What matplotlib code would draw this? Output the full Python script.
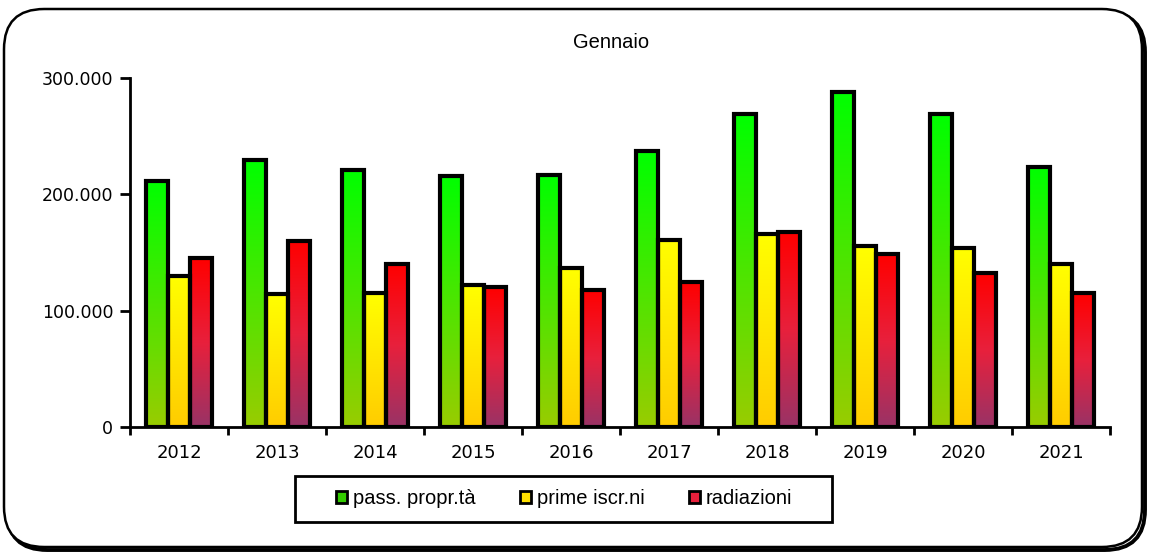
import matplotlib
matplotlib.use("Agg")
import matplotlib.pyplot as plt
import numpy as np
from matplotlib.patches import FancyBboxPatch, Rectangle, Patch
from matplotlib.colors import LinearSegmentedColormap
from matplotlib.ticker import FuncFormatter

years = ["2012", "2013", "2014", "2015", "2016", "2017", "2018", "2019", "2020", "2021"]
pass_propr = [211500, 229500, 221000, 216000, 217000, 237000, 269000, 288000, 269000, 223500]
prime_iscr = [130000, 114000, 115000, 122000, 137000, 161000, 166000, 155500, 154000, 140000]
radiazioni = [145000, 160000, 140500, 120000, 118000, 124500, 167500, 148500, 132000, 115000]
series_names = ["pass. propr.tà", "prime iscr.ni", "radiazioni"]
title = "Gennaio"

# gradient colours (top -> bottom)
grads = [
    ["#00FF00", "#99CC00"],
    ["#FFFF00", "#FFCC00"],
    ["#FF0000", "#E8203C", "#993366"],
]
legend_colors = ["#33CC00", "#FFE000", "#E8203C"]

W, H = 1150, 554
fig = plt.figure(figsize=(W / 100, H / 100), dpi=100)

# outer rounded frame with shadow
shadow = FancyBboxPatch((7 / W, 4 / H), 1138 / W, 538 / H,
                        boxstyle="round,pad=0,rounding_size=0.035",
                        transform=fig.transFigure, facecolor="none",
                        edgecolor="black", linewidth=2.8, zorder=-2, mutation_aspect=W / H)
fig.patches.append(shadow)
frame = FancyBboxPatch((4 / W, 7 / H), 1138 / W, 538 / H,
                       boxstyle="round,pad=0,rounding_size=0.035",
                       transform=fig.transFigure, facecolor="white",
                       edgecolor="black", linewidth=1.8, zorder=-1, mutation_aspect=W / H)
fig.patches.append(frame)

ax = fig.add_axes([130 / W, 1 - 427 / H, 980 / W, 349 / H])
ax.set_zorder(1)

x = np.arange(len(years))
bw = 0.225
data = [pass_propr, prime_iscr, radiazioni]
for i, vals in enumerate(data):
    offs = (i - 1) * bw
    bars = ax.bar(x + offs, vals, width=bw, facecolor="none", edgecolor="black",
                  linewidth=3.0, zorder=3)
    cmap = LinearSegmentedColormap.from_list(f"g{i}", grads[i][::-1])
    grad = np.linspace(0, 1, 256).reshape(-1, 1)
    for b in bars:
        x0 = b.get_x()
        ax.imshow(grad, cmap=cmap, origin="lower", aspect="auto",
                  extent=(x0, x0 + b.get_width(), 0, b.get_height()), zorder=2,
                  interpolation="bilinear")

ax.set_xlim(-0.5, len(years) - 0.5)
ax.set_ylim(0, 300000)
ax.set_yticks([0, 100000, 200000, 300000])
ax.yaxis.set_major_formatter(FuncFormatter(lambda v, p: "0" if v == 0 else f"{int(v):,}".replace(",", ".")))
ax.set_xticks(x)
ax.set_xticklabels(years)
ax.set_xticks(np.arange(-0.5, len(years)), minor=True)
ax.tick_params(axis="x", which="major", length=0, pad=12, labelsize=13)
ax.tick_params(axis="x", which="minor", length=6, width=2, direction="out")
ax.tick_params(axis="y", length=7, width=2, direction="out", labelsize=12.5, pad=5)
for s in ["top", "right"]:
    ax.spines[s].set_visible(False)
for s in ["left", "bottom"]:
    ax.spines[s].set_linewidth(2)
ax.set_facecolor("none")

fig.text(611 / W, 1 - 42 / H, title, ha="center", va="center", fontsize=14.5,
         family="Liberation Sans")

# legend box
fig.patches.append(Rectangle((295 / W, 1 - 522 / H), 537 / W, 46 / H,
                             transform=fig.transFigure, facecolor="white",
                             edgecolor="black", linewidth=2, zorder=1))
handles = [Patch(facecolor=c, edgecolor="black", linewidth=2) for c in legend_colors]
fig.legend(handles, series_names, loc="center", bbox_to_anchor=(564 / W, 1 - 499 / H),
           ncol=3, frameon=False, handlelength=0.55, handleheight=0.55,
           handletextpad=0.3, columnspacing=2.2, prop={"family": "Liberation Sans", "size": 14.5})

fig.savefig("out.png", dpi=100)
